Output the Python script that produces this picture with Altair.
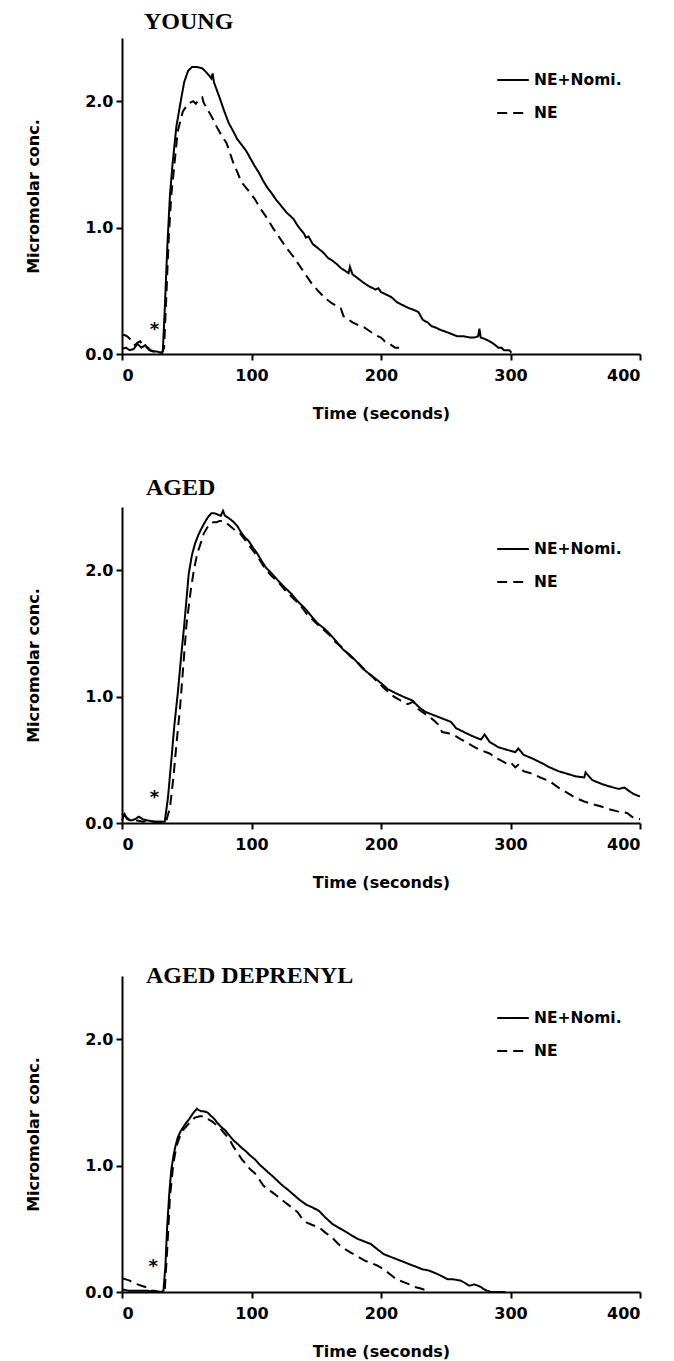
import altair as alt
import pandas as pd

FONT = "DejaVu Sans"
TITLE_FONT = "Liberation Serif"

SERIES = ["NE+Nomi.", "NE"]
DASHES = [[1, 0], [10, 6]]
X_TICKS = [0, 100, 200, 300, 400]
Y_TICKS = [0.0, 1.0, 2.0]
PANEL_TITLES = ["YOUNG", "AGED", "AGED DEPRENYL"]

# ---------------- YOUNG ----------------
young_nomi_t = [0, 3, 6, 9, 12, 15, 18, 21, 24, 27,
                30, 31.5, 33, 35, 37, 39, 42, 45.7, 48, 51,
                54, 58, 62, 65, 67.5, 69, 70, 71, 73.5, 76,
                79, 82.3, 86, 89, 92, 95.7, 99, 102.3, 106, 109,
                112, 115.7, 119, 122.3, 127, 132.3, 136, 140.7, 142, 144,
                147.3, 151, 155.7, 159, 162.3, 166, 169, 172, 175, 176,
                178, 182, 185.7, 190, 195.7, 198, 200, 204, 208, 212.3,
                216, 220, 222.3, 225, 227.3, 229, 232.3, 236, 239, 242,
                244, 246, 249, 254, 259, 264, 269, 272, 275, 276,
                277, 280, 284, 287, 290.7, 293, 295, 297.3, 299, 300.7]
young_nomi_v = [0.04, 0.05, 0.03, 0.04, 0.08, 0.05, 0.07, 0.03, 0.02, 0.02,
                0.01, 0.02, 0.35, 0.85, 1.25, 1.50, 1.80, 2.02, 2.15, 2.24,
                2.27, 2.27, 2.26, 2.23, 2.20, 2.18, 2.22, 2.15, 2.08, 2.01,
                1.92, 1.83, 1.76, 1.70, 1.66, 1.61, 1.55, 1.49, 1.43, 1.37,
                1.32, 1.27, 1.22, 1.18, 1.12, 1.07, 1.01, 0.95, 0.92, 0.93,
                0.87, 0.84, 0.80, 0.76, 0.74, 0.71, 0.68, 0.66, 0.64, 0.69,
                0.63, 0.60, 0.57, 0.54, 0.51, 0.52, 0.49, 0.47, 0.45, 0.41,
                0.39, 0.37, 0.36, 0.35, 0.34, 0.33, 0.27, 0.25, 0.22, 0.21,
                0.20, 0.19, 0.18, 0.16, 0.14, 0.14, 0.13, 0.13, 0.14, 0.20,
                0.13, 0.12, 0.10, 0.08, 0.05, 0.05, 0.03, 0.03, 0.03, 0.01]
young_ne_t = [0, 2, 4, 6, 8, 10, 12, 14, 17, 20,
              22, 25, 28, 31, 32.5, 34, 36, 38, 40, 43,
              47, 51, 55, 57, 59, 62, 63, 65, 68, 70.7,
              73, 75.7, 78, 80.7, 83, 85.7, 89, 92.3, 97, 102.3,
              107, 112.3, 117, 122.3, 127, 132.3, 137, 142.3, 147, 152.3,
              157, 162.3, 166, 169, 171, 174, 178, 182, 185.7, 190,
              195.7, 200, 203, 205.7, 208, 211, 214]
young_ne_v = [0.15, 0.15, 0.14, 0.12, 0.10, 0.07, 0.09, 0.10, 0.06, 0.05,
              0.03, 0.02, 0.01, 0.01, 0.05, 0.40, 0.90, 1.25, 1.45, 1.76,
              1.92, 1.98, 2.00, 1.98, 2.01, 2.03, 1.99, 1.95, 1.90, 1.85,
              1.80, 1.75, 1.71, 1.67, 1.60, 1.52, 1.44, 1.36, 1.30, 1.23,
              1.15, 1.07, 0.99, 0.91, 0.84, 0.77, 0.70, 0.62, 0.55, 0.49,
              0.44, 0.40, 0.38, 0.36, 0.30, 0.28, 0.25, 0.23, 0.22, 0.19,
              0.15, 0.13, 0.10, 0.09, 0.07, 0.05, 0.05]

# ---------------- AGED ----------------
aged_nomi_t = [0, 2, 4, 7, 10, 13, 16, 20, 25, 30,
               33, 35.5, 38.2, 40.5, 43.2, 45.5, 48.1, 51.5, 54, 56.4,
               59, 61.4, 64, 66.4, 69, 71.4, 74, 76.3, 78, 79.5,
               81.3, 84, 86.3, 89, 91.3, 94, 97.9, 101, 104.6, 108,
               111.2, 116, 121.2, 126, 131.1, 136, 141.1, 146, 151, 156,
               161, 166, 171, 176, 180.9, 186, 190.9, 196, 200.8, 205,
               210.8, 217, 224.1, 229, 234, 239, 244, 249, 254, 258,
               263.9, 270, 277.2, 280, 284, 290.5, 297, 303.7, 306, 310,
               317, 323, 330.3, 337, 343.6, 350, 356.9, 358, 363, 370.1,
               376, 383.4, 388, 392, 395, 400]
aged_nomi_v = [0.02, 0.07, 0.03, 0.02, 0.03, 0.05, 0.03, 0.02, 0.01, 0.01,
               0.01, 0.20, 0.51, 0.78, 1.04, 1.30, 1.57, 1.97, 2.12, 2.21,
               2.28, 2.33, 2.38, 2.42, 2.45, 2.45, 2.44, 2.43, 2.47, 2.43,
               2.42, 2.40, 2.38, 2.35, 2.31, 2.27, 2.23, 2.18, 2.13, 2.07,
               2.02, 1.97, 1.91, 1.86, 1.81, 1.75, 1.70, 1.64, 1.58, 1.54,
               1.49, 1.43, 1.37, 1.33, 1.28, 1.22, 1.18, 1.14, 1.10, 1.06,
               1.03, 1.00, 0.97, 0.92, 0.88, 0.86, 0.84, 0.82, 0.80, 0.75,
               0.72, 0.69, 0.66, 0.70, 0.64, 0.60, 0.58, 0.56, 0.59, 0.54,
               0.51, 0.48, 0.44, 0.41, 0.39, 0.37, 0.36, 0.40, 0.34, 0.31,
               0.29, 0.27, 0.28, 0.25, 0.23, 0.21]
aged_ne_t = [0, 2, 5, 8, 12, 16, 20, 25, 30, 34,
             37, 39.8, 42, 44.8, 47, 49.8, 53.1, 55.5, 58.1, 61,
             63.1, 66, 68, 70.5, 73, 75.5, 78, 81, 84.6, 88,
             91.3, 95, 100, 104.6, 110, 115, 121.2, 126, 131, 137.8,
             143, 149, 154.4, 160, 165, 171, 176, 182, 187.6, 193,
             198, 204.1, 210, 215, 220.7, 225, 229, 233, 237.3, 241,
             244, 247.2, 252, 257.2, 262, 266, 270.5, 276, 283.8, 290,
             297.1, 300, 303.7, 306, 310, 317, 323, 330.3, 337, 343.6,
             350, 356.9, 363, 370.1, 376, 383.4, 390, 395, 400]
aged_ne_v = [0.07, 0.06, 0.03, 0.02, 0.02, 0.01, 0.02, 0.01, 0.01, 0.01,
             0.12, 0.37, 0.62, 0.91, 1.20, 1.57, 1.84, 2.00, 2.13, 2.22,
             2.29, 2.34, 2.37, 2.38, 2.38, 2.39, 2.39, 2.37, 2.34, 2.31,
             2.29, 2.24, 2.17, 2.11, 2.02, 1.96, 1.90, 1.84, 1.79, 1.72,
             1.65, 1.59, 1.54, 1.49, 1.43, 1.38, 1.32, 1.27, 1.21, 1.16,
             1.11, 1.05, 1.00, 0.97, 0.94, 0.96, 0.90, 0.87, 0.84, 0.81,
             0.78, 0.72, 0.71, 0.69, 0.66, 0.64, 0.61, 0.58, 0.55, 0.51,
             0.47, 0.48, 0.44, 0.46, 0.41, 0.39, 0.36, 0.33, 0.28, 0.24,
             0.20, 0.17, 0.15, 0.13, 0.11, 0.09, 0.08, 0.04, 0.03]

# ---------------- AGED DEPRENYL ----------------
dep_nomi_t = [0, 5, 10, 15, 20, 25, 30, 32, 33.5, 34.8,
              36.5, 38.1, 39.8, 41.4, 43, 44.7, 47, 49.7, 52, 54.6,
              57.9, 59, 61.3, 63, 66.2, 68, 71.2, 73.5, 76.2, 79.5,
              82.8, 86, 89.4, 92.5, 96, 99, 102.6, 106, 109.3, 112.5,
              115.9, 120, 124.2, 128, 132.5, 137, 142.4, 147, 152.3, 157,
              162.3, 167, 172.2, 177, 182.1, 187, 192.1, 197, 202, 207,
              211.9, 217, 221.9, 227, 231.8, 237, 241.7, 246, 251.7, 256,
              261.6, 265, 268.2, 272, 274.8, 277, 279.8, 282, 284.8, 296]
dep_nomi_v = [0.02, 0.01, 0.01, 0.01, 0.01, 0.00, 0.00, 0.01, 0.20, 0.50,
              0.78, 0.97, 1.08, 1.16, 1.22, 1.26, 1.30, 1.34, 1.37, 1.41,
              1.45, 1.44, 1.43, 1.43, 1.42, 1.40, 1.37, 1.34, 1.31, 1.28,
              1.24, 1.20, 1.17, 1.14, 1.11, 1.08, 1.05, 1.01, 0.98, 0.95,
              0.92, 0.88, 0.84, 0.81, 0.77, 0.73, 0.69, 0.67, 0.64, 0.59,
              0.54, 0.51, 0.48, 0.45, 0.42, 0.40, 0.38, 0.34, 0.30, 0.28,
              0.26, 0.24, 0.22, 0.20, 0.18, 0.17, 0.15, 0.13, 0.10, 0.10,
              0.09, 0.07, 0.05, 0.06, 0.05, 0.04, 0.02, 0.01, 0.00, 0.00]
dep_ne_t = [0, 3, 6, 9, 12, 15, 18, 20, 22, 25,
            30, 33, 35, 37, 39.7, 42, 44.7, 47, 49.7, 53,
            56.3, 60, 62.9, 66, 69.5, 73, 76.2, 79.5, 82.8, 86,
            89.4, 92.5, 96, 99, 102.6, 106, 109.3, 112.5, 115.9, 121,
            125.8, 131, 135.8, 139, 142.4, 147, 152.3, 157, 162.3, 167,
            172.2, 177, 182.1, 187, 192.1, 197, 202, 207, 211.9, 217,
            221.9, 226, 230.1, 233, 236.8]
dep_ne_v = [0.11, 0.10, 0.09, 0.07, 0.06, 0.05, 0.04, 0.02, 0.01, 0.01,
            0.00, 0.01, 0.35, 0.75, 1.02, 1.15, 1.23, 1.28, 1.31, 1.35,
            1.38, 1.39, 1.39, 1.37, 1.35, 1.32, 1.29, 1.25, 1.21, 1.15,
            1.10, 1.05, 1.01, 0.97, 0.94, 0.89, 0.84, 0.81, 0.79, 0.75,
            0.71, 0.67, 0.63, 0.58, 0.55, 0.53, 0.51, 0.47, 0.43, 0.38,
            0.34, 0.31, 0.28, 0.25, 0.23, 0.21, 0.18, 0.14, 0.10, 0.08,
            0.06, 0.04, 0.03, 0.02, 0.01]

# asterisk (injection marker) positions per panel
star_t = [25, 25, 24]
star_v = [0.23, 0.24, 0.235]

title_offsets = [4, 7, -12]
title_dx = [22, 24, 24]

PANEL_W = 518
PANEL_H = 316


def make_panel(i, nomi_t, nomi_v, ne_t, ne_v):
    assert len(nomi_t) == len(nomi_v) and len(ne_t) == len(ne_v)
    df = pd.DataFrame({
        "t": list(nomi_t) + list(ne_t),
        "v": list(nomi_v) + list(ne_v),
        "series": [SERIES[0]] * len(nomi_t) + [SERIES[1]] * len(ne_t),
    })
    x = alt.X("t:Q", scale=alt.Scale(domain=[0, 400], nice=False, zero=False),
              axis=alt.Axis(title="Time (seconds)", values=X_TICKS, format="d"))
    y = alt.Y("v:Q", scale=alt.Scale(domain=[0, 2.5], nice=False),
              axis=alt.Axis(title="Micromolar conc.", values=Y_TICKS, format=".1f"))
    lines = alt.Chart(df).mark_line(color="black", strokeWidth=2).encode(
        x=x,
        y=y,
        strokeDash=alt.StrokeDash(
            "series:N",
            scale=alt.Scale(domain=SERIES, range=DASHES),
            sort=SERIES,
            legend=alt.Legend(
                title=None, orient="none", legendX=374, legendY=25, padding=0,
                symbolType="stroke", symbolSize=1000, symbolStrokeWidth=2,
                symbolStrokeColor="black", labelFont=FONT, labelFontSize=15.5,
                labelFontWeight="bold", labelColor="black", rowPadding=7,
                labelOffset=4,
            ),
        ),
    )
    sdf = pd.DataFrame({"t": [star_t[i]], "v": [star_v[i]], "s": ["*"]})
    star = alt.Chart(sdf).mark_text(
        font=FONT, fontSize=18, fontWeight="bold", color="black", dy=5
    ).encode(x=x, y=y, text="s:N")
    return alt.layer(lines, star).properties(
        width=PANEL_W,
        height=PANEL_H,
        title=alt.TitleParams(
            PANEL_TITLES[i], anchor="start", frame="group", font=TITLE_FONT,
            fontWeight="bold", fontSize=24, color="black",
            dx=title_dx[i], offset=title_offsets[i],
        ),
    )


p1 = make_panel(0, young_nomi_t, young_nomi_v, young_ne_t, young_ne_v)
p2 = make_panel(1, aged_nomi_t, aged_nomi_v, aged_ne_t, aged_ne_v)
p3 = make_panel(2, dep_nomi_t, dep_nomi_v, dep_ne_t, dep_ne_v)

chart = (
    alt.vconcat(p1, p2, p3, spacing=153, bounds="flush")
    .resolve_scale(strokeDash="independent")
    .properties(padding={"left": 17, "top": 2, "right": 5, "bottom": 5})
    .configure_view(stroke=None)
    .configure_axis(
        grid=False, domainColor="black", domainWidth=2, tickColor="black",
        tickWidth=2, tickSize=6, labelFont=FONT, labelFontSize=16,
        labelFontWeight="bold", labelColor="black", titleFont=FONT,
        titleFontSize=16, titleFontWeight="bold", titleColor="black",
    )
    .configure_axisX(labelPadding=7, titlePadding=22)
    .configure_axisY(labelPadding=3, titlePadding=43)
)

chart.save("out.html", embed_options={"renderer": "svg", "actions": False})
